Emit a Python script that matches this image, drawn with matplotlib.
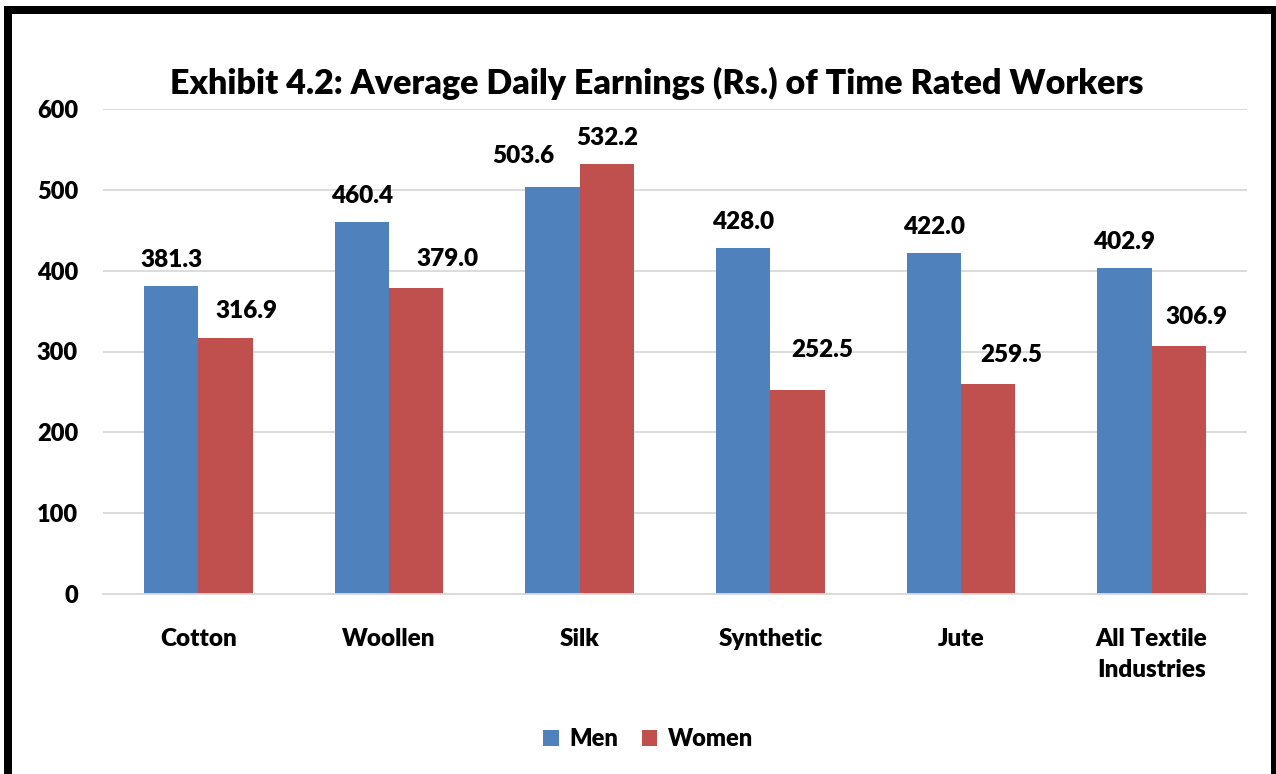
import matplotlib.pyplot as plt
import numpy as np
from matplotlib.patches import Rectangle

plt.rcParams['font.family'] = ['Lato', 'DejaVu Sans']

categories = ['Cotton', 'Woollen', 'Silk', 'Synthetic', 'Jute', 'All Textile\nIndustries']
men = [381.3, 460.4, 503.6, 428.0, 422.0, 402.9]
women = [316.9, 379.0, 532.2, 252.5, 259.5, 306.9]
yticks = [0, 100, 200, 300, 400, 500, 600]

# hand-placed data label nudges in the original (dx, gap above bar), pixels
men_nudge = [(0, 19), (0, 19), (-29, 24), (0, 19), (0, 19), (0, 19)]
women_nudge = [(21, 20), (31, 22), (0, 19), (25, 33), (23, 22), (18, 22)]

blue = '#4F81BD'
red = '#C0504D'
wt = 'heavy'
PT = 0.72  # points per pixel at dpi 100

fig = plt.figure(figsize=(12.76, 7.74), dpi=100)
ax = fig.add_axes([103 / 1276, 1 - 594 / 774, 1144 / 1276, 485 / 774])

x = np.arange(len(categories))
w = 0.2855
b1 = ax.bar(x - w / 2, men, w, color=blue, label='Men', zorder=2)
b2 = ax.bar(x + w / 2, women, w, color=red, label='Women', zorder=2)

# data labels
for bars, vals, nudge in ((b1, men, men_nudge), (b2, women, women_nudge)):
    for r, v, (dx, dy) in zip(bars, vals, nudge):
        ax.annotate('%.1f' % v, (r.get_x() + r.get_width() / 2, v),
                    xytext=(dx * PT, dy * PT), textcoords='offset points',
                    ha='center', va='baseline', fontsize=17.5, fontweight=wt)

ax.set_xlim(-0.5, len(categories) - 0.5)
ax.set_ylim(0, 600)
ax.set_yticks(yticks)
ax.set_xticks(x)
ax.set_xticklabels(categories, fontsize=17.5, fontweight=wt, linespacing=1.5)
for t in ax.get_yticklabels():
    t.set_fontsize(17)
    t.set_fontweight(wt)
ax.tick_params(axis='y', length=0, pad=18)
ax.tick_params(axis='x', length=0, pad=24.5)
ax.grid(axis='y', color='#D9D9D9', linewidth=1.3, zorder=0)
for s in ['top', 'right', 'left']:
    ax.spines[s].set_visible(False)
ax.spines['bottom'].set_color('#D9D9D9')
ax.spines['bottom'].set_linewidth(1.3)

fig.text(657 / 1276, 1 - 83 / 774, 'Exhibit 4.2: Average Daily Earnings (Rs.) of Time Rated Workers',
         ha='center', va='center', fontsize=24.5, fontweight=wt)

fig.legend(handles=[b1, b2], loc='center', bbox_to_anchor=(648 / 1276, 1 - 739 / 774),
           ncol=2, frameon=False, prop={'size': 17, 'weight': wt},
           handlelength=0.65, handleheight=0.65, handletextpad=0.45, columnspacing=1.0)

# black frame around the chart (bottom edge runs off the picture)
fig.patches.append(Rectangle((8 / 1276, -0.1), 1267 / 1276, 1.1 - 10 / 774,
                             transform=fig.transFigure, fill=False,
                             edgecolor='black', linewidth=8 * PT))

fig.savefig('out.png', dpi=100)
